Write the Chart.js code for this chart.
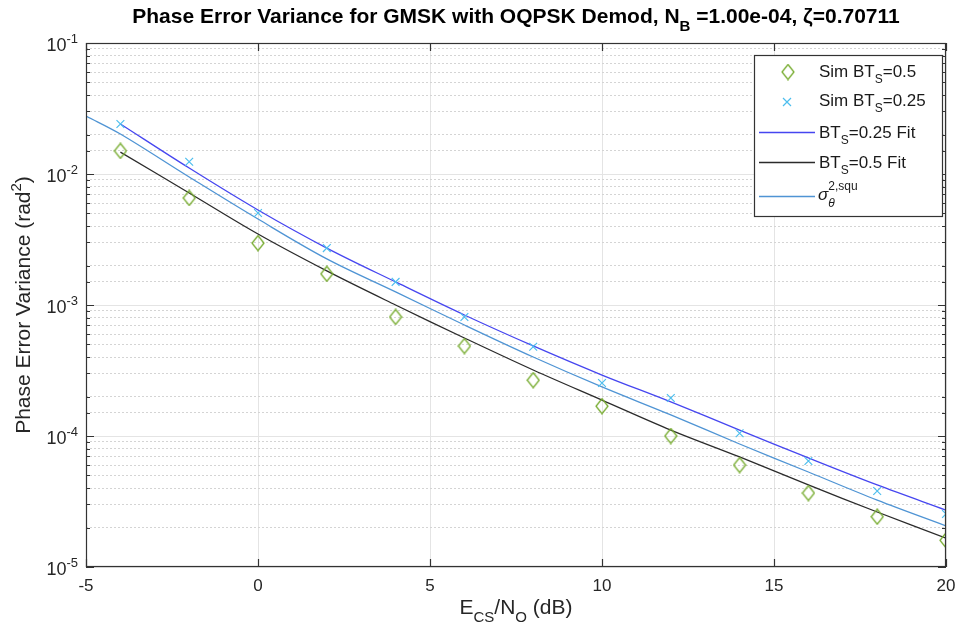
<!DOCTYPE html>
<html>
<head>
<meta charset="utf-8">
<script src="https://cdn.jsdelivr.net/npm/chart.js@4/dist/chart.umd.min.js"></script>
<style>
    html, body { margin: 0; padding: 0; background: #fff; }
    #wrap { width: 959px; height: 638px; position: relative; }
</style>
</head>
<body>
<div id="wrap"><canvas id="chart" width="959" height="638"></canvas></div>
<script>
// Es/No points (dB) where the simulations were run
const simX = [-4, -2, 0, 2, 4, 6, 8, 10, 12, 14, 16, 18, 20];
const simBT05 = [0.0150, 0.00656, 0.00297, 0.00173, 0.00081, 0.000486, 0.000267, 0.000169, 0.000100, 6.0e-5, 3.67e-5, 2.42e-5, 1.6e-5];
const simBT025 = [0.0241, 0.0124, 0.00504, 0.00272, 0.00150, 0.00081, 0.00048, 0.000254, 0.000195, 1.05e-4, 6.44e-5, 3.8e-5, 2.54e-5];

// fitted curves
const fitX = [-4, -2, 0, 2, 4, 6, 8, 10, 12, 14, 16, 18, 20];
const fitBT025 = [0.0241, 0.0111, 0.00531, 0.00272, 0.00150, 0.000839, 0.000487, 0.000292, 0.000182, 0.000111, 6.8e-5, 4.23e-5, 2.72e-5];
const fitBT05 = [0.0147, 0.00716, 0.00348, 0.00182, 0.00100, 0.00056, 0.000319, 0.000188, 0.000111, 6.92e-5, 4.23e-5, 2.63e-5, 1.66e-5];

// squaring-loss variance curve
const squX = [-5, -4, -2, 0, 2, 4, 6, 8, 10, 12, 14, 16, 18, 20];
const squVar = [0.0277, 0.0202, 0.00949, 0.00453, 0.00225, 0.00126, 0.000704, 0.000401, 0.000237, 0.000145, 8.69e-5, 5.31e-5, 3.24e-5, 2.06e-5];

const xTicks = [-5, 0, 5, 10, 15, 20];
const yDecades = [1e-5, 1e-4, 1e-3, 1e-2, 1e-1];
const yExpLabels = ['-5', '-4', '-3', '-2', '-1'];

const FONT = '"Liberation Sans", Arial, sans-serif';
const AXIS_COLOR = '#333333';

function toPoints(xs, ys) {
    return xs.map(function (x, i) { return { x: x, y: ys[i] }; });
}

function isDecade(v) {
    const l = Math.log10(v);
    return Math.abs(l - Math.round(l)) < 1e-6;
}

// taller-than-wide diamond like the MATLAB marker
function makeDiamond(w, h, color) {
    const c = document.createElement('canvas');
    c.width = w + 2; c.height = h + 2;
    const g = c.getContext('2d');
    g.strokeStyle = color;
    g.lineWidth = 1.3;
    g.beginPath();
    g.moveTo(c.width / 2, 1);
    g.lineTo(c.width - 1, c.height / 2);
    g.lineTo(c.width / 2, c.height - 1);
    g.lineTo(1, c.height / 2);
    g.closePath();
    g.stroke();
    return c;
}
const diamond = makeDiamond(12, 15, '#77ac30');

// draws text pieces with sub/superscripts, returns width
function drawRich(ctx, parts, x, y, size, opts) {
    opts = opts || {};
    const weight = opts.bold ? 'bold ' : '';
    function fontFor(p) {
        const s = (p.sub || p.sup) ? Math.round(size * 0.72) : size;
        return (p.italic ? 'italic ' : '') + weight + s + 'px ' + FONT;
    }
    let total = 0;
    parts.forEach(function (p) {
        ctx.font = fontFor(p);
        total += ctx.measureText(p.t).width;
    });
    let cx = x;
    if (opts.align === 'center') cx = x - total / 2;
    if (opts.align === 'right') cx = x - total;
    ctx.textBaseline = 'alphabetic';
    ctx.textAlign = 'left';
    parts.forEach(function (p) {
        ctx.font = fontFor(p);
        let dy = 0;
        if (p.sub) dy = size * 0.38;
        if (p.sup) dy = -size * 0.45;
        ctx.fillText(p.t, cx, y + dy);
        cx += ctx.measureText(p.t).width;
    });
    return total;
}

const decorPlugin = {
    id: 'decor',
    afterDraw: function (chart) {
        const ctx = chart.ctx;
        const area = chart.chartArea;
        const xs = chart.scales.x;
        const ys = chart.scales.y;
        ctx.save();

        // box + inner ticks
        ctx.strokeStyle = AXIS_COLOR;
        ctx.lineWidth = 1.2;
        ctx.strokeRect(area.left + 0.5, area.top + 0.5, area.right - area.left - 1, area.bottom - area.top - 1);
        ctx.beginPath();
        xTicks.forEach(function (t) {
            const px = Math.round(xs.getPixelForValue(t)) + 0.5;
            ctx.moveTo(px, area.bottom); ctx.lineTo(px, area.bottom - 8);
            ctx.moveTo(px, area.top); ctx.lineTo(px, area.top + 8);
        });
        ys.ticks.forEach(function (tk) {
            const py = Math.round(ys.getPixelForValue(tk.value)) + 0.5;
            const len = isDecade(tk.value) ? 8 : 4;
            ctx.moveTo(area.left, py); ctx.lineTo(area.left + len, py);
            ctx.moveTo(area.right, py); ctx.lineTo(area.right - len, py);
        });
        ctx.stroke();

        // tick labels
        ctx.fillStyle = '#262626';
        ctx.font = '17px ' + FONT;
        ctx.textAlign = 'center';
        ctx.textBaseline = 'top';
        xTicks.forEach(function (t) {
            ctx.fillText(String(t), xs.getPixelForValue(t), area.bottom + 11);
        });
        yDecades.forEach(function (v, i) {
            const py = ys.getPixelForValue(v);
            drawRich(ctx, [{ t: '10' }, { t: yExpLabels[i], sup: true }], area.left - 8, py + 8, 18, { align: 'right' });
        });

        // title
        ctx.fillStyle = '#000';
        drawRich(ctx, [
            { t: 'Phase Error Variance for GMSK with OQPSK Demod, N' },
            { t: 'B', sub: true },
            { t: ' =1.00e-04, \u03b6=0.70711' }
        ], (area.left + area.right) / 2, 23, 21, { align: 'center', bold: true });

        // axis titles
        ctx.fillStyle = '#262626';
        drawRich(ctx, [
            { t: 'E' }, { t: 'CS', sub: true }, { t: '/N' }, { t: 'O', sub: true }, { t: ' (dB)' }
        ], (area.left + area.right) / 2, 614, 21, { align: 'center' });
        ctx.save();
        ctx.translate(30, (area.top + area.bottom) / 2);
        ctx.rotate(-Math.PI / 2);
        drawRich(ctx, [{ t: 'Phase Error Variance (rad' }, { t: '2', sup: true }, { t: ')' }], 0, 0, 21, { align: 'center' });
        ctx.restore();

        // legend
        const lx = 754, ly = 55, lw = 188, lh = 161;
        ctx.fillStyle = '#fff';
        ctx.fillRect(lx, ly, lw, lh);
        ctx.strokeStyle = AXIS_COLOR;
        ctx.lineWidth = 1.2;
        ctx.strokeRect(lx + 0.5, ly + 0.5, lw, lh);

        const textX = 819;
        ctx.fillStyle = '#1a1a1a';
        // diamond entry
        ctx.drawImage(diamond, 788 - diamond.width / 2, 72 - diamond.height / 2);
        drawRich(ctx, [{ t: 'Sim BT' }, { t: 'S', sub: true }, { t: '=0.5' }], textX, 77, 17);
        // cross entry
        ctx.strokeStyle = '#4dbeee';
        ctx.lineWidth = 1.2;
        ctx.beginPath();
        ctx.moveTo(783, 98); ctx.lineTo(791, 106);
        ctx.moveTo(791, 98); ctx.lineTo(783, 106);
        ctx.stroke();
        drawRich(ctx, [{ t: 'Sim BT' }, { t: 'S', sub: true }, { t: '=0.25' }], textX, 106, 17);
        // line entries
        const lineEntries = [
            { y: 132, color: '#4646f0', parts: [{ t: 'BT' }, { t: 'S', sub: true }, { t: '=0.25 Fit' }] },
            { y: 162, color: '#2b2b2b', parts: [{ t: 'BT' }, { t: 'S', sub: true }, { t: '=0.5 Fit' }] }
        ];
        lineEntries.forEach(function (e) {
            ctx.strokeStyle = e.color;
            ctx.lineWidth = 1.3;
            ctx.beginPath();
            ctx.moveTo(759, e.y + 0.5); ctx.lineTo(815, e.y + 0.5);
            ctx.stroke();
            drawRich(ctx, e.parts, textX, e.y + 6, 17);
        });
        ctx.strokeStyle = '#4f94d4';
        ctx.beginPath();
        ctx.moveTo(759, 196.5); ctx.lineTo(815, 196.5);
        ctx.stroke();
        ctx.font = 'italic 17px ' + FONT;
        ctx.textAlign = 'left';
        ctx.textBaseline = 'alphabetic';
        ctx.fillText('\u03c3', 818, 200);
        const sw = ctx.measureText('\u03c3').width;
        ctx.font = 'italic 12px ' + FONT;
        ctx.fillText('\u03b8', 818 + sw, 207);
        ctx.font = '12px ' + FONT;
        ctx.fillText('2,squ', 818 + sw, 190);

        ctx.restore();
    }
};

const ctx = document.getElementById('chart').getContext('2d');
new Chart(ctx, {
    type: 'scatter',
    data: {
        datasets: [
            {
                label: 'Sim BTs=0.5',
                data: toPoints(simX, simBT05),
                pointStyle: diamond,
                pointRadius: 7,
                showLine: false
            },
            {
                label: 'Sim BTs=0.25',
                data: toPoints(simX, simBT025),
                pointStyle: 'crossRot',
                pointRadius: 5.5,
                borderColor: '#4dbeee',
                borderWidth: 1.2,
                showLine: false
            },
            {
                label: 'BTs=0.25 Fit',
                data: toPoints(fitX, fitBT025),
                showLine: true,
                borderColor: '#4646f0',
                borderWidth: 1.3,
                pointRadius: 0,
                tension: 0.35
            },
            {
                label: 'BTs=0.5 Fit',
                data: toPoints(fitX, fitBT05),
                showLine: true,
                borderColor: '#2b2b2b',
                borderWidth: 1.3,
                pointRadius: 0,
                tension: 0.35
            },
            {
                label: 'sigma squ',
                data: toPoints(squX, squVar),
                showLine: true,
                borderColor: '#4f94d4',
                borderWidth: 1.3,
                pointRadius: 0,
                tension: 0.35
            }
        ]
    },
    options: {
        responsive: false,
        animation: false,
        events: [],
        layout: { padding: { left: 86, right: 13, top: 43, bottom: 71 } },
        plugins: {
            legend: { display: false },
            title: { display: false },
            tooltip: { enabled: false }
        },
        scales: {
            x: {
                type: 'linear', min: -5, max: 20,
                ticks: { display: false, stepSize: 5 },
                grid: { color: '#e4e4e4', drawTicks: false },
                border: { display: false },
                afterFit: function (s) { s.height = 0; }
            },
            y: {
                type: 'logarithmic', min: 1e-5, max: 1e-1,
                ticks: { display: false },
                grid: {
                    drawTicks: false,
                    color: function (c) { return c.tick && isDecade(c.tick.value) ? '#e4e4e4' : 'rgba(0,0,0,0)'; }
                },
                border: { display: false },
                afterFit: function (s) { s.width = 0; }
            },
            yMinor: {
                type: 'logarithmic', position: 'right', min: 1e-5, max: 1e-1,
                ticks: { display: false },
                grid: {
                    drawTicks: false,
                    color: function (c) { return c.tick && !isDecade(c.tick.value) ? '#d4d4d4' : 'rgba(0,0,0,0)'; }
                },
                border: { display: false, dash: [2, 2] },
                afterFit: function (s) { s.width = 0; }
            }
        }
    },
    plugins: [decorPlugin]
});
</script>
</body>
</html>
